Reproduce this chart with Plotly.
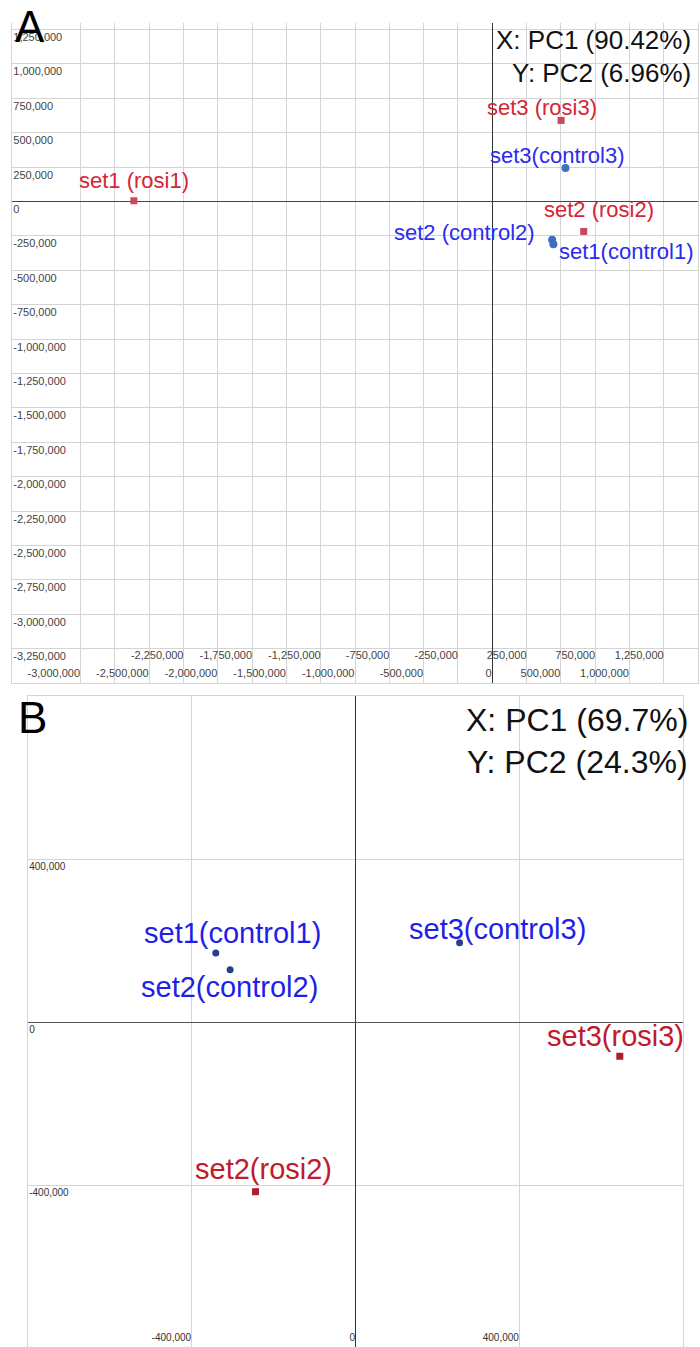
import plotly.graph_objects as go

# ---------------- data ----------------
# Panel A
A_rosi_labels = ["set1 (rosi1)", "set2 (rosi2)", "set3 (rosi3)"]
A_rosi_x = [-2612000, 667000, 502000]
A_rosi_y = [5000, -218000, 589000]
A_ctrl_labels = ["set1(control1)", "set2 (control2)", "set3(control3)"]
A_ctrl_x = [446000, 437000, 534000]
A_ctrl_y = [-311000, -279000, 243000]
A_x_title = "X: PC1 (90.42%)"
A_y_title = "Y: PC2 (6.96%)"
A_x_ticks_bottom = [-3000000, -2500000, -2000000, -1500000, -1000000, -500000, 0, 500000, 1000000]
A_x_ticks_top = [-2250000, -1750000, -1250000, -750000, -250000, 250000, 750000, 1250000]
A_x_grid = [-3250000 + 250000 * i for i in range(19)]
A_y_ticks = [1250000 - 250000 * i for i in range(19)]

# Panel B
B_ctrl_labels = ["set1(control1)", "set2(control2)", "set3(control3)"]
B_ctrl_x = [-341000, -306000, 254000]
B_ctrl_y = [170000, 129000, 195000]
B_rosi_labels = ["set2(rosi2)", "set3(rosi3)"]
B_rosi_x = [-244000, 645000]
B_rosi_y = [-415000, -83000]
B_x_title = "X: PC1 (69.7%)"
B_y_title = "Y: PC2 (24.3%)"
B_x_ticks = [-400000, 0, 400000]
B_y_ticks = [400000, 0, -400000]

# ---------------- styles ----------------
W, H = 700, 1347
FONT = "Arial"
GRID = "#d4d4d4"
TICKC = "#444444"


def fmt(v):
    return f"{v:,}"


def px_x(p):
    return p / W


def px_y(p):
    return (H - p) / H


fig = go.Figure()

# Panel A traces
fig.add_trace(go.Scatter(x=A_ctrl_x, y=A_ctrl_y, mode="markers", xaxis="x", yaxis="y",
                         marker=dict(symbol="circle", size=8, color="#3d6fc2"),
                         showlegend=False, hoverinfo="skip"))
fig.add_trace(go.Scatter(x=A_rosi_x, y=A_rosi_y, mode="markers", xaxis="x", yaxis="y",
                         marker=dict(symbol="square", size=7, color="#c9485b"),
                         showlegend=False, hoverinfo="skip"))
# invisible carrier for the second tick-label row of panel A
fig.add_trace(go.Scatter(x=A_rosi_x, y=A_rosi_y, mode="markers", xaxis="x3", yaxis="y",
                         marker=dict(opacity=0), showlegend=False, hoverinfo="skip"))

# Panel B traces
fig.add_trace(go.Scatter(x=B_ctrl_x, y=B_ctrl_y, mode="markers", xaxis="x2", yaxis="y2",
                         marker=dict(symbol="circle", size=7, color="#26408e"),
                         showlegend=False, hoverinfo="skip"))
fig.add_trace(go.Scatter(x=B_rosi_x, y=B_rosi_y, mode="markers", xaxis="x2", yaxis="y2",
                         marker=dict(symbol="square", size=7, color="#b01b2d"),
                         showlegend=False, hoverinfo="skip"))

A_top, A_bot, A_left, A_right = 23, 683, 12, 698
B_top, B_bot, B_left, B_right = 696, 1347, 27.7, 683.3

A_xrange = [-3500000, 1500000]
A_yrange = [-3500000, 1297000]
B_xrange = [-800000, 800000]
B_yrange = [-795800, 800000]

tickfontA = dict(family=FONT, size=11, color=TICKC)
tickfontB = dict(family=FONT, size=10, color="#333333")

fig.update_layout(
    width=W, height=H,
    margin=dict(l=0, r=0, t=0, b=0),
    paper_bgcolor="white", plot_bgcolor="white",
    showlegend=False,
    xaxis=dict(domain=[px_x(A_left), px_x(A_right)], range=A_xrange, anchor="y",
               tickmode="array", tickvals=A_x_grid,
               ticktext=[fmt(v) if v in A_x_ticks_bottom else "" for v in A_x_grid],
               ticklabelposition="inside left", ticks="", tickfont=tickfontA,
               showgrid=True, gridcolor=GRID, gridwidth=1,
               zeroline=True, zerolinecolor="#333333", zerolinewidth=1,
               showline=True, linecolor=GRID, mirror=False, fixedrange=True),
    xaxis3=dict(overlaying="x", range=A_xrange, anchor="free",
                position=px_y(A_bot - 16),
                tickmode="array", tickvals=A_x_ticks_top,
                ticktext=[fmt(v) for v in A_x_ticks_top],
                ticklabelposition="inside left", ticks="", tickfont=tickfontA,
                showgrid=False, zeroline=False, showline=False, fixedrange=True),
    yaxis=dict(domain=[px_y(A_bot), px_y(A_top)], range=A_yrange, anchor="x",
               tickmode="array", tickvals=A_y_ticks, ticktext=[fmt(v) for v in A_y_ticks],
               ticklabelposition="inside bottom", ticks="", tickfont=tickfontA,
               showgrid=True, gridcolor=GRID, gridwidth=1,
               zeroline=True, zerolinecolor="#444444", zerolinewidth=1,
               showline=True, linecolor=GRID, mirror=True, fixedrange=True),
    xaxis2=dict(domain=[px_x(B_left), px_x(B_right)], range=B_xrange, anchor="y2",
                tickmode="array", tickvals=B_x_ticks, ticktext=[fmt(v) for v in B_x_ticks],
                ticklabelposition="inside left", ticks="", tickfont=tickfontB,
                showgrid=True, gridcolor=GRID, gridwidth=1,
                zeroline=True, zerolinecolor="#333333", zerolinewidth=1,
                showline=True, linecolor=GRID, mirror=True, fixedrange=True),
    yaxis2=dict(domain=[px_y(B_bot), px_y(B_top)], range=B_yrange, anchor="x2",
                tickmode="array", tickvals=B_y_ticks, ticktext=[fmt(v) for v in B_y_ticks],
                ticklabelposition="inside bottom", ticks="", tickfont=tickfontB,
                showgrid=True, gridcolor=GRID, gridwidth=1,
                zeroline=True, zerolinecolor="#555555", zerolinewidth=1,
                showline=True, linecolor=GRID, mirror=True, fixedrange=True),
)

annotations = []

# point labels, panel A
A_rosi_off = [(0, 20, "center"), (15, 22, "center"), (-19, 13, "center")]
A_ctrl_off = [(4, -7, "left"), (-15, 7, "right"), (-8, 13, "center")]
for lab, x, y, (dx, dy, anc) in zip(A_rosi_labels, A_rosi_x, A_rosi_y, A_rosi_off):
    annotations.append(dict(x=x, y=y, xref="x", yref="y", text=lab, showarrow=False,
                            xshift=dx, yshift=dy, xanchor=anc, yanchor="middle",
                            font=dict(family=FONT, size=22, color="#d42634")))
for lab, x, y, (dx, dy, anc) in zip(A_ctrl_labels, A_ctrl_x, A_ctrl_y, A_ctrl_off):
    annotations.append(dict(x=x, y=y, xref="x", yref="y", text=lab, showarrow=False,
                            xshift=dx, yshift=dy, xanchor=anc, yanchor="middle",
                            font=dict(family=FONT, size=22, color="#2b2bef")))

# point labels, panel B
B_ctrl_off = [(17, 20, "center"), (-1, -17, "center"), (38, 14, "center")]
B_rosi_off = [(8, 23, "center"), (-4, 20, "center")]
for lab, x, y, (dx, dy, anc) in zip(B_ctrl_labels, B_ctrl_x, B_ctrl_y, B_ctrl_off):
    annotations.append(dict(x=x, y=y, xref="x2", yref="y2", text=lab, showarrow=False,
                            xshift=dx, yshift=dy, xanchor=anc, yanchor="middle",
                            font=dict(family=FONT, size=29, color="#1f1fe8")))
for lab, x, y, (dx, dy, anc) in zip(B_rosi_labels, B_rosi_x, B_rosi_y, B_rosi_off):
    annotations.append(dict(x=x, y=y, xref="x2", yref="y2", text=lab, showarrow=False,
                            xshift=dx, yshift=dy, xanchor=anc, yanchor="middle",
                            font=dict(family=FONT, size=29, color="#c01a2b")))

# PC titles
annotations.append(dict(x=px_x(693), y=px_y(40), xref="paper", yref="paper", text=A_x_title,
                        showarrow=False, xanchor="right", yanchor="middle",
                        font=dict(family=FONT, size=26, color="#111111")))
annotations.append(dict(x=px_x(693), y=px_y(73), xref="paper", yref="paper", text=A_y_title,
                        showarrow=False, xanchor="right", yanchor="middle",
                        font=dict(family=FONT, size=26, color="#111111")))
annotations.append(dict(x=px_x(690), y=px_y(720), xref="paper", yref="paper", text=B_x_title,
                        showarrow=False, xanchor="right", yanchor="middle",
                        font=dict(family=FONT, size=32, color="#111111")))
annotations.append(dict(x=px_x(690), y=px_y(762), xref="paper", yref="paper", text=B_y_title,
                        showarrow=False, xanchor="right", yanchor="middle",
                        font=dict(family=FONT, size=32, color="#111111")))

# panel letters
annotations.append(dict(x=px_x(13), y=px_y(27), xref="paper", yref="paper", text="A",
                        showarrow=False, xanchor="left", yanchor="middle",
                        font=dict(family=FONT, size=44, color="black")))
annotations.append(dict(x=px_x(16), y=px_y(717), xref="paper", yref="paper", text="B",
                        showarrow=False, xanchor="left", yanchor="middle",
                        font=dict(family=FONT, size=44, color="black")))

fig.update_layout(annotations=annotations)

fig.write_html("out.html", config=dict(displayModeBar=False),
               post_script="document.body.style.margin='0';document.body.style.overflow='hidden';")
